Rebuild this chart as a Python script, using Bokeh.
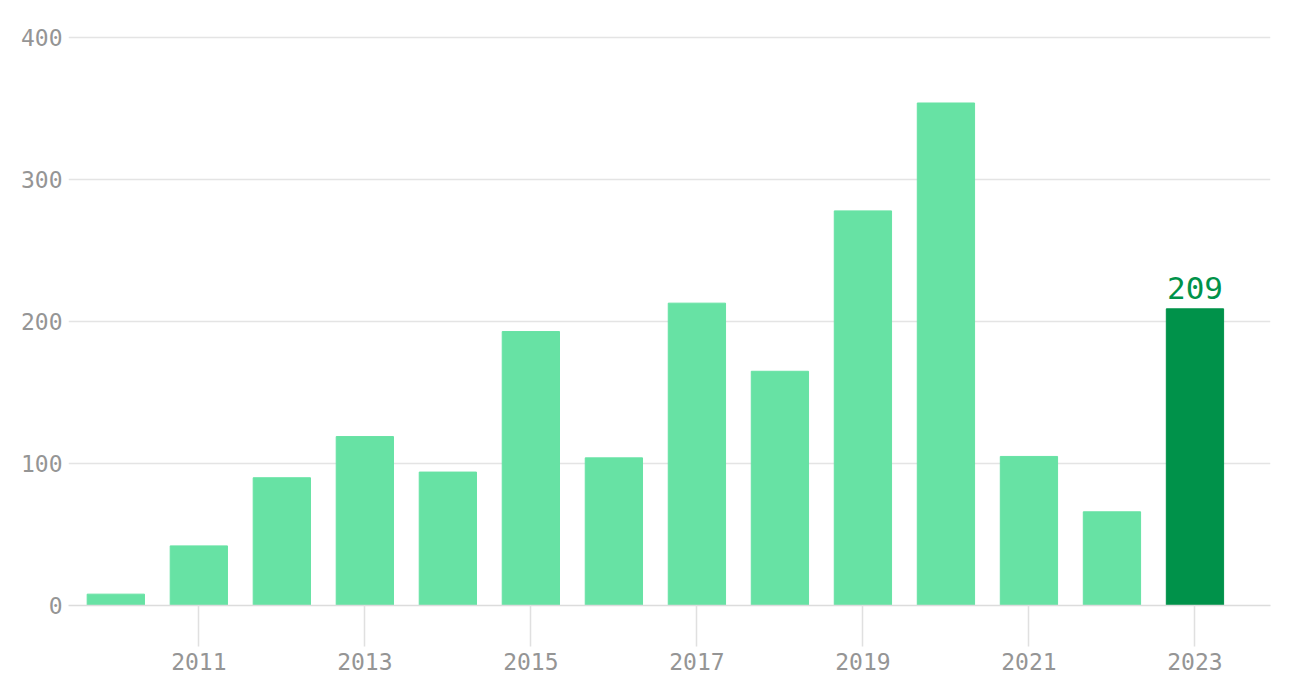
from bokeh.plotting import figure
from bokeh.models import ColumnDataSource, Range1d, FixedTicker
from bokeh.embed import file_html
from bokeh.resources import INLINE
from bokeh.core.properties import value

years = [2010, 2011, 2012, 2013, 2014, 2015, 2016, 2017, 2018, 2019, 2020, 2021, 2022, 2023]
counts = [8, 42, 90, 119, 94, 193, 104, 213, 165, 278, 354, 105, 66, 209]
x_ticks = [2011, 2013, 2015, 2017, 2019, 2021, 2023]
y_ticks = [0, 100, 200, 300, 400]

LIGHT = "#67e2a4"
DARK = "#00924a"
GRAY = "#959595"
FONT = "DejaVu Sans Mono"

colors = [DARK if y == years[-1] else LIGHT for y in years]
src = ColumnDataSource(dict(x=years, top=counts, color=colors))

p = figure(width=1284, height=687, output_backend="svg", toolbar_location=None,
           x_range=Range1d(2009.43, 2023.91), y_range=Range1d(0, 410),
           frame_width=1202, frame_height=582,
           min_border_left=68, min_border_right=14, min_border_top=23, min_border_bottom=82)
p.outline_line_color = None
p.background_fill_color = "white"

p.vbar(x="x", top="top", width=0.69, color="color", source=src)

last = ColumnDataSource(dict(x=[years[-1]], y=[counts[-1]], t=[str(counts[-1])]))
p.text(x="x", y="y", text="t", source=last, text_align="center", text_baseline="bottom",
       y_offset=-10, text_font=value(FONT), text_font_size="31px", text_color=DARK)

p.xgrid.grid_line_color = None
p.ygrid.grid_line_color = "#e4e4e4"
p.ygrid.grid_line_width = 1.5
p.ygrid.ticker = FixedTicker(ticks=y_ticks)

xa = p.xaxis[0]
xa.ticker = FixedTicker(ticks=x_ticks)
xa.axis_line_color = "#dcdcdc"
xa.axis_line_width = 1.5
xa.major_tick_line_color = "#e0e0e0"
xa.major_tick_line_width = 1.5
xa.major_tick_out = 41
xa.major_tick_in = 0
xa.minor_tick_line_color = None
xa.major_label_text_font = FONT
xa.major_label_text_font_size = "23px"
xa.major_label_text_color = GRAY
xa.major_label_standoff = 6

ya = p.yaxis[0]
ya.ticker = FixedTicker(ticks=y_ticks)
ya.axis_line_color = None
ya.major_tick_line_color = None
ya.minor_tick_line_color = None
ya.major_label_text_font = FONT
ya.major_label_text_font_size = "23px"
ya.major_label_text_color = GRAY
ya.major_label_standoff = 0

open("out.html", "w").write(file_html(p, INLINE))
